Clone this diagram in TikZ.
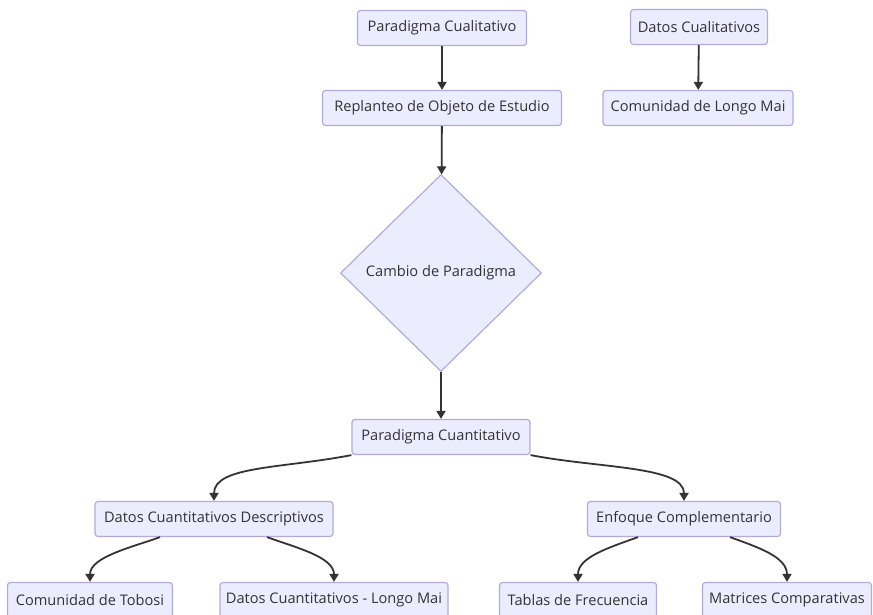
\documentclass[tikz,border=0pt]{standalone}
\usepackage{fontspec}
\setmainfont{Open Sans}
\usetikzlibrary{shapes.geometric,arrows.meta}

\definecolor{relleno}{HTML}{ECECFF}
\definecolor{borde}{HTML}{B3AADA}
\definecolor{texto}{HTML}{333333}

\tikzset{
  caja/.style={draw=borde, fill=relleno, rounded corners=3pt, line width=1.2pt,
    minimum height=35pt, inner xsep=6pt, text=texto, font=\fontsize{14.6}{16}\selectfont},
  rombo/.style={diamond, draw=borde, fill=relleno, line width=1.2pt,
    minimum width=201pt, minimum height=197pt, inner sep=0pt, text=texto,
    font=\fontsize{14.6}{16}\selectfont},
  flecha/.style={draw=texto, line width=1.8pt, -{Triangle[length=8pt,width=9pt]}}
}

\begin{document}
\begin{tikzpicture}[x=1pt,y=1pt]

\useasboundingbox (0,0) rectangle (873,-615);

% Parte cualitativa
\node[caja, minimum width=169pt] (pcual) at (442,-28) {Paradigma Cualitativo};
\node[caja, minimum width=239pt] (replanteo) at (442,-108) {Replanteo de Objeto de Estudio};
\node[caja, minimum width=137pt] (dcual) at (699,-27) {Datos Cualitativos};
\node[caja, minimum width=190pt] (longomai) at (698,-108) {Comunidad de Longo Mai};

% Cambio
\node[rombo] (cambio) at (441,-273) {Cambio de Paradigma};

% Parte cuantitativa
\node[caja, minimum width=178pt] (pcuant) at (441,-437) {Paradigma Cuantitativo};
\node[caja, minimum width=238pt] (dcdesc) at (214,-519) {Datos Cuantitativos Descriptivos};
\node[caja, minimum width=193pt] (enfoque) at (684,-519) {Enfoque Complementario};
\node[caja, minimum width=165pt] (tobosi) at (90,-600) {Comunidad de Tobosi};
\node[caja, minimum width=228pt] (dclongo) at (334,-600) {Datos Cuantitativos - Longo Mai};
\node[caja, minimum width=157pt] (tablas) at (578,-600) {Tablas de Frecuencia};
\node[caja, minimum width=169pt] (matrices) at (787,-600) {Matrices Comparativas};

% Flechas rectas
\draw[flecha] (pcual) -- (replanteo);
\draw[flecha] (replanteo) -- (cambio);
\draw[flecha] (cambio) -- (pcuant);
\draw[flecha] (dcual) -- (longomai);

% Flechas curvas
\draw[flecha] (pcuant.south west) .. controls +(191:70) and +(90:35) .. (dcdesc.north);
\draw[flecha] (pcuant.south east) .. controls +(-11:70) and +(90:35) .. (enfoque.north);
\draw[flecha] ([xshift=-54pt]dcdesc.south) .. controls +(200:30) and +(90:25) .. (tobosi.north);
\draw[flecha] ([xshift=53pt]dcdesc.south) .. controls +(-20:30) and +(90:25) .. (dclongo.north);
\draw[flecha] ([xshift=-46pt]enfoque.south) .. controls +(200:30) and +(90:25) .. (tablas.north);
\draw[flecha] ([xshift=46pt]enfoque.south) .. controls +(-20:30) and +(90:25) .. (matrices.north);

\end{tikzpicture}
\end{document}
